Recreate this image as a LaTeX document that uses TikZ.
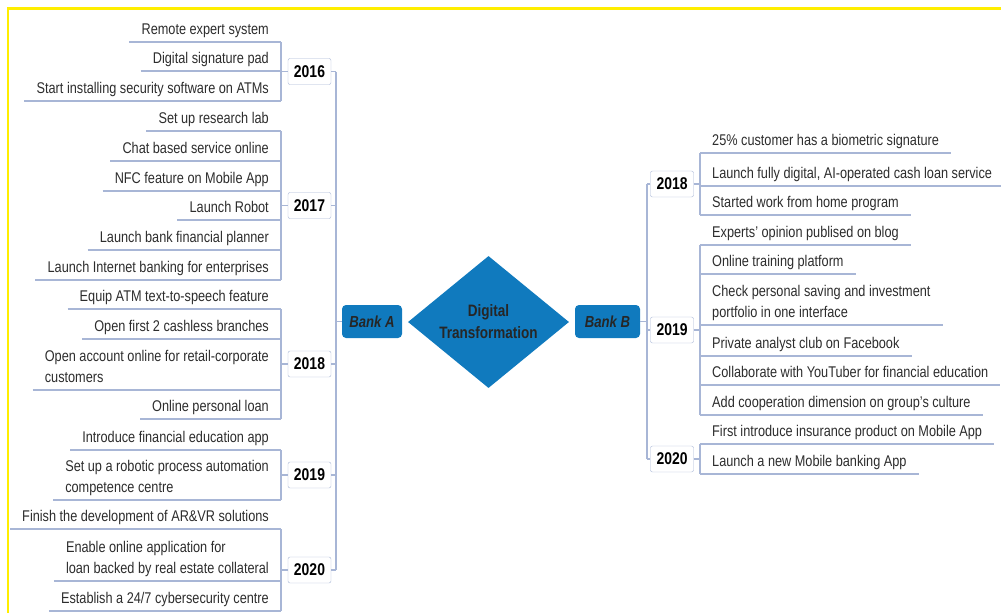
\documentclass[tikz,border=0pt]{standalone}
\usepackage{fontspec}
\setmainfont[FakeStretch=0.82]{Liberation Sans}
\usetikzlibrary{shapes.geometric}
\definecolor{dtblue}{RGB}{16,122,190}
\definecolor{linegray}{RGB}{168,182,214}
\definecolor{txtgray}{RGB}{45,45,45}
\definecolor{frameyel}{RGB}{255,238,0}
\tikzset{
itemL/.style={anchor=south east,inner xsep=12pt,inner ysep=3pt,text depth=4pt,align=left,text=txtgray,font=\fontsize{15.5}{21}\selectfont},
itemR/.style={itemL,anchor=south west},
yearbox/.style={draw=linegray,fill=white,rounded corners=2pt,minimum width=43pt,minimum height=26pt,inner sep=0pt,text=black,font=\bfseries\fontsize{17}{18}\selectfont},
bankbox/.style={fill=dtblue,rounded corners=4pt,minimum height=33pt,inner sep=0pt,text=black!85,font=\bfseries\itshape\fontsize{16}{18}\selectfont},
link/.style={draw=linegray,line width=1.1pt}
}
\begin{document}
\begin{tikzpicture}[x=1pt,y=-1pt]
\useasboundingbox (0,0) rectangle (1001,613);
\draw[frameyel,line width=2.7pt](8,613)--(8,8.3)--(1001,8.3);
\node[itemL](a1)at(281,42){Remote expert system};
\node[itemL](a2)at(281,71){Digital signature pad};
\node[itemL](a3)at(281,101){Start installing security software on ATMs};
\node[itemL](b1)at(281,131){Set up research lab};
\node[itemL](b2)at(281,161){Chat based service online};
\node[itemL](b3)at(281,191){NFC feature on Mobile App};
\node[itemL](b4)at(281,220){Launch Robot};
\node[itemL](b5)at(281,250){Launch bank financial planner};
\node[itemL](b6)at(281,280){Launch Internet banking for enterprises};
\node[itemL](c1)at(281,309){Equip ATM text-to-speech feature};
\node[itemL](c2)at(281,339){Open first 2 cashless branches};
\node[itemL](c3)at(281,390){Open account online for retail-corporate\\customers};
\node[itemL](c4)at(281,419){Online personal loan};
\node[itemL](d1)at(281,450){Introduce financial education app};
\node[itemL](d2)at(281,500){Set up a robotic process automation\\competence centre};
\node[itemL](e1)at(281,529){Finish the development of AR\&VR solutions};
\node[itemL](e2)at(281,581){Enable online application for\\loan backed by real estate collateral};
\node[itemL](e3)at(281,611){Establish a 24/7 cybersecurity centre};
\node[itemR](f1)at(700,153){25\% customer has a biometric signature};
\node[itemR](f2)at(700,186){Launch fully digital, AI-operated cash loan service};
\node[itemR](f3)at(700,215){Started work from home program};
\node[itemR](g1)at(700,245){Experts' opinion publised on blog};
\node[itemR](g2)at(700,274){Online training platform};
\node[itemR](g3)at(700,325){Check personal saving and investment\\portfolio in one interface};
\node[itemR](g4)at(700,356){Private analyst club on Facebook};
\node[itemR](g5)at(700,385){Collaborate with YouTuber for financial education};
\node[itemR](g6)at(700,415){Add cooperation dimension on group's culture};
\node[itemR](h1)at(700,444){First introduce insurance product on Mobile App};
\node[itemR](h2)at(700,474){Launch a new Mobile banking App};
\foreach \n in {a1,a2,a3,b1,b2,b3,b4,b5,b6,c1,c2,c3,c4,d1,d2,e1,e2,e3,f1,f2,f3,g1,g2,g3,g4,g5,g6,h1,h2}
  \draw[link](\n.south west)--(\n.south east);
\draw[link](a1.south east)--(a3.south east) (b1.south east)--(b6.south east) (c1.south east)--(c4.south east)
  (d1.south east)--(d2.south east) (e1.south east)--(e3.south east);
\draw[link](f1.south west)--(f3.south west) (g1.south west)--(g6.south west) (h1.south west)--(h2.south west);
\node[yearbox](ya16)at(309.5,71.5){2016};
\node[yearbox](ya17)at(309.5,205.5){2017};
\node[yearbox](ya18)at(309.5,364){2018};
\node[yearbox](ya19)at(309.5,475){2019};
\node[yearbox](ya20)at(309.5,570){2020};
\node[yearbox](yb18)at(672,184){2018};
\node[yearbox](yb19)at(672,330){2019};
\node[yearbox](yb20)at(672,459){2020};
\node[bankbox,minimum width=60pt](bankA)at(372,321.5){Bank A};
\node[bankbox,minimum width=65pt](bankB)at(607.5,321.5){Bank B};
\node[diamond,fill=dtblue,aspect=1.22,minimum width=161pt,minimum height=132pt,inner sep=0pt,align=center,text=black!85,font=\bfseries\fontsize{16.5}{22}\selectfont](dt)at(488.5,322){Digital\\Transformation};
\coordinate(spineA)at(336,0);
\coordinate(spineB)at(647,0);
\draw[link](ya16.east-|spineA)--(ya20.east-|spineA);
\draw[link](yb18.west-|spineB)--(yb20.west-|spineB);
\draw[link](bankA.west)--(bankA.west-|spineA) (bankB.east)--(bankB.east-|spineB);
\draw[link](ya16.west)--(ya16.west-|a1.south east) (ya16.east)--(ya16.east-|spineA);
\draw[link](ya17.west)--(ya17.west-|b1.south east) (ya17.east)--(ya17.east-|spineA);
\draw[link](ya18.west)--(ya18.west-|c1.south east) (ya18.east)--(ya18.east-|spineA);
\draw[link](ya19.west)--(ya19.west-|d1.south east) (ya19.east)--(ya19.east-|spineA);
\draw[link](ya20.west)--(ya20.west-|e1.south east) (ya20.east)--(ya20.east-|spineA);
\draw[link](yb18.east)--(yb18.east-|f1.south west) (yb18.west)--(yb18.west-|spineB);
\draw[link](yb19.east)--(yb19.east-|g1.south west) (yb19.west)--(yb19.west-|spineB);
\draw[link](yb20.east)--(yb20.east-|h1.south west) (yb20.west)--(yb20.west-|spineB);
\end{tikzpicture}
\end{document}
